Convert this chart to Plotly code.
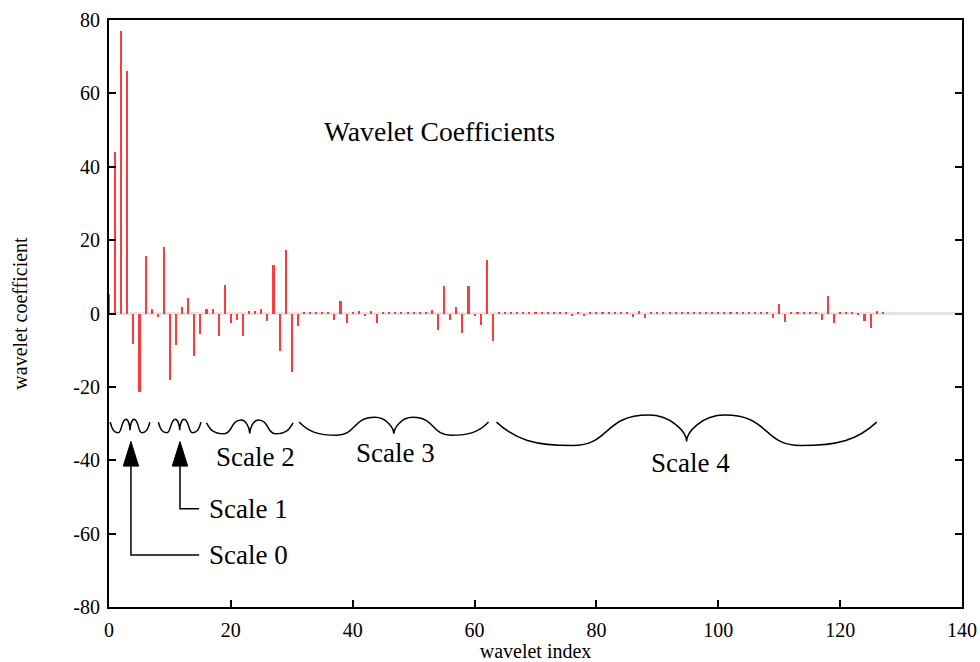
import plotly.graph_objects as go

# ---- data ----
coef = [
    5.3, 43.9, 77.0, 66.0, -8.2, -21.5, 15.6, 1.3, -0.9, 18.2,
    -18.0, -8.5, 1.8, 4.1, -11.5, -5.6, 1.1, 1.1, -6.0, 7.8,
    -2.5, -1.9, -6.0, 0.7, 0.8, 1.2, -2.0, 13.1, -10.2, 17.2,
    -16.0, -3.5, 0.3, 0.2, 0.2, 0.2, 0.5, -1.7, 3.5, -2.5,
    0.5, 0.6, -0.8, 0.6, -2.7, 0.3, 0.2, 0.2, 0.2, 0.2,
    0.2, 0.2, 0.5, 1.0, -4.5, 7.4, -1.9, 1.7, -5.4, 7.6,
    -0.8, -3.2, 14.5, -7.5, 0.2, 0.2, 0.2, 0.2, 0.2, 0.2,
    0.2, 0.2, 0.2, 0.2, 0.2, 0.2, -0.8, 0.5, -0.8, 0.2,
    0.2, 0.2, 0.2, 0.2, 0.2, 0.2, -0.9, 0.7, -1.1, 0.2,
    0.2, 0.2, 0.2, 0.2, 0.2, 0.2, 0.2, 0.2, 0.2, 0.2,
    0.2, 0.2, 0.2, 0.2, 0.2, 0.2, 0.2, 0.2, 0.2, -1.3,
    2.5, -2.4, 0.4, 0.2, 0.2, 0.2, 0.5, -1.7, 4.8, -2.7,
    0.5, 0.3, 0.4, -0.3, -2.0, -3.9, 0.6, 0.2,
]
index = list(range(len(coef)))

x_ticks = [0, 20, 40, 60, 80, 100, 120, 140]
y_ticks = [-80, -60, -40, -20, 0, 20, 40, 60, 80]

# braces: (x start, x end, end y, bottom y, hump y, cusp y)
braces = [
    (0.2, 6.7, -29.6, -32.5, -28.8, -31.8),
    (8.1, 15.1, -29.6, -32.5, -28.8, -31.8),
    (16.0, 30.2, -29.8, -32.8, -29.0, -32.7),
    (31.2, 62.3, -29.6, -33.2, -28.3, -32.8),
    (63.6, 126.0, -29.6, -36.0, -27.7, -34.9),
]
brace_labels = [("Scale 2", 24.0, -39.2), ("Scale 3", 47.0, -38.1), ("Scale 4", 95.5, -40.8)]

# bent arrows: (x of arrow, corner y, label text)
arrows = [(3.6, -65.8, "Scale 0"), (11.65, -53.2, "Scale 1")]
arrow_tip_y = -34.9
arrow_base_y = -41.6
arrow_half_w = 1.26
arrow_end_x = 14.8
arrow_label_x = 16.1

FONT = "Liberation Serif, Times New Roman, serif"

fig = go.Figure()
fig.add_trace(go.Bar(
    x=index, y=coef, width=0.34,
    marker=dict(color="#ff3a3a", line=dict(width=0)),
    showlegend=False,
))

shapes = []
for (x0, x1, ye, yb, yh, yc) in braces:
    w = x1 - x0
    xc = (x0 + x1) / 2
    d = ye - yb
    k = yc + (yh - yc) * 0.35
    p = (
        f"M {x0},{ye} "
        f"C {x0 + 0.05*w},{ye - 0.75*d} {x0 + 0.1*w},{yb} {x0 + 0.2*w},{yb} "
        f"C {x0 + 0.3*w},{yb} {xc - 0.22*w},{yh} {xc - 0.1*w},{yh} "
        f"C {xc - 0.04*w},{yh} {xc},{k} {xc},{yc} "
        f"C {xc},{k} {xc + 0.04*w},{yh} {xc + 0.1*w},{yh} "
        f"C {xc + 0.22*w},{yh} {x1 - 0.3*w},{yb} {x1 - 0.2*w},{yb} "
        f"C {x1 - 0.1*w},{yb} {x1 - 0.05*w},{ye - 0.75*d} {x1},{ye}"
    )
    shapes.append(dict(type="path", path=p, xref="x", yref="y",
                       line=dict(color="black", width=1.5)))

annotations = []
for (ax, cy, label) in arrows:
    shapes.append(dict(type="path", xref="x", yref="y",
                       path=f"M {ax},{arrow_base_y} L {ax},{cy} L {arrow_end_x},{cy}",
                       line=dict(color="black", width=1.5)))
    shapes.append(dict(type="path", xref="x", yref="y",
                       path=f"M {ax},{arrow_tip_y} L {ax - arrow_half_w},{arrow_base_y} "
                            f"L {ax + arrow_half_w},{arrow_base_y} Z",
                       fillcolor="black", line=dict(color="black", width=1)))
    annotations.append(dict(x=arrow_label_x, y=cy, xref="x", yref="y", text=label,
                            showarrow=False, xanchor="left", yanchor="middle",
                            font=dict(family=FONT, size=27, color="black")))

for (label, lx, ly) in brace_labels:
    annotations.append(dict(x=lx, y=ly, xref="x", yref="y", text=label,
                            showarrow=False, xanchor="center", yanchor="middle",
                            font=dict(family=FONT, size=27, color="black")))

annotations.append(dict(x=54.3, y=49.7, xref="x", yref="y", text="Wavelet Coefficients",
                        showarrow=False, xanchor="center", yanchor="middle",
                        font=dict(family=FONT, size=27.6, color="black")))

fig.update_layout(
    template="none",
    width=980, height=662,
    margin=dict(l=109, r=18, t=20, b=55, autoexpand=False),
    paper_bgcolor="white", plot_bgcolor="white",
    shapes=shapes, annotations=annotations,
    font=dict(family=FONT, size=20, color="black"),
    bargap=0,
)
fig.update_xaxes(
    range=[0, 140], tickvals=x_ticks, ticktext=[str(v) for v in x_ticks],
    showgrid=False, zeroline=False, automargin=False,
    showline=True, linecolor="black", linewidth=2, mirror=True,
    ticks="inside", ticklen=7, tickwidth=2, tickcolor="black",
    ticklabelstandoff=4,
    tickfont=dict(family=FONT, size=20, color="black"),
    title=dict(text="wavelet index", font=dict(family=FONT, size=20, color="black"), standoff=2),
)
fig.update_yaxes(
    range=[-80, 80], tickvals=y_ticks, ticktext=[str(v) for v in y_ticks],
    showgrid=False, zeroline=True, zerolinecolor="#e4e4e4", zerolinewidth=3,
    automargin=False,
    showline=True, linecolor="black", linewidth=2, mirror="ticks",
    ticks="inside", ticklen=7, tickwidth=2, tickcolor="black",
    ticklabelstandoff=3,
    tickfont=dict(family=FONT, size=20, color="black"),
    title=dict(text="wavelet coefficient", font=dict(family=FONT, size=20, color="black"), standoff=40),
)

fig.write_html("out.html")
